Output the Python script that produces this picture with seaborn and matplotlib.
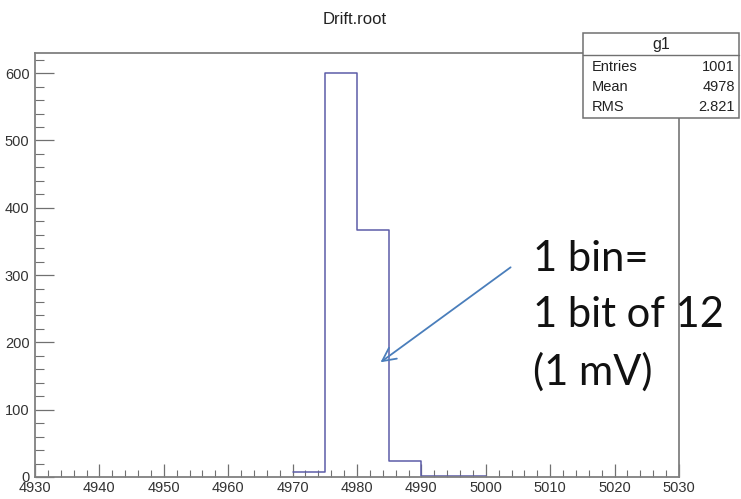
import numpy as np
import pandas as pd
import matplotlib
matplotlib.use("Agg")
import matplotlib.pyplot as plt
from matplotlib.ticker import MultipleLocator
from matplotlib.patches import Rectangle
from matplotlib.lines import Line2D
import seaborn as sns

# ---- data ----
bin_edges = [4970, 4975, 4980, 4985, 4990, 4995, 5000]
bin_counts = [7, 600, 367, 24, 2, 1]
title = "Drift.root"
stats_name = "g1"
stats_labels = ["Entries", "Mean", "RMS"]
stats_values = ["1001", "4978", "2.821"]
note_text = "1 bin=\n1 bit of 12\n(1 mV)"
x_range = (4930, 5030)
y_range = (0, 630)

sns.set_style("white")
plt.rcParams['font.family'] = ['Liberation Sans Narrow', 'Liberation Sans', 'DejaVu Sans']

W, H = 741, 499
fig = plt.figure(figsize=(W / 100, H / 100), dpi=100)
ax = fig.add_axes([35 / W, (H - 477) / H, (679 - 35) / W, (477 - 53) / H])

centers = [(a + b) / 2 for a, b in zip(bin_edges[:-1], bin_edges[1:])]
df = pd.DataFrame({"x": centers, "w": bin_counts})
sns.histplot(data=df, x="x", weights="w", bins=bin_edges, element="step",
             fill=False, color="#5c5ca8", linewidth=1.1, ax=ax)

ax.set_xlim(*x_range)
ax.set_ylim(*y_range)
ax.set_xlabel("")
ax.set_ylabel("")
ax.xaxis.set_major_locator(MultipleLocator(10))
ax.xaxis.set_minor_locator(MultipleLocator(2))
ax.yaxis.set_major_locator(MultipleLocator(100))
ax.yaxis.set_minor_locator(MultipleLocator(20))
ax.tick_params(axis="x", which="major", direction="in", length=9.5, width=0.9,
               color="#707070", labelsize=10.5, labelcolor="#333333", pad=3)
ax.tick_params(axis="x", which="minor", direction="in", length=5, width=0.8,
               color="#707070")
ax.tick_params(axis="y", which="major", direction="in", length=13.5, width=0.9,
               color="#707070", labelsize=10.5, labelcolor="#333333", pad=4)
ax.tick_params(axis="y", which="minor", direction="in", length=6.5, width=0.8,
               color="#707070")
ax.tick_params(bottom=True, left=True, which="both")
for s in ax.spines.values():
    s.set_color("#808080")
    s.set_linewidth(1.3)

fig.text(355 / W, 1 - 20 / H, title, ha="center", va="center", fontsize=12,
         color="#222222")

# stats box
bx0, bx1, by0, by1 = 583, 739, 33, 118
fig.add_artist(Rectangle((bx0 / W, 1 - by1 / H), (bx1 - bx0) / W, (by1 - by0) / H,
                         transform=fig.transFigure, facecolor="white",
                         edgecolor="#707070", linewidth=1.1, zorder=5))
fig.add_artist(Line2D([bx0 / W, bx1 / W], [1 - 55 / H, 1 - 55 / H],
                      transform=fig.transFigure, color="#707070", linewidth=1.0,
                      zorder=6))
fig.text((bx0 + bx1) / 2 / W, 1 - 44 / H, stats_name, ha="center", va="center",
         fontsize=11.5, color="#222222", zorder=7)
for i, (lab, val) in enumerate(zip(stats_labels, stats_values)):
    yb = 1 - (67 + i * 20) / H
    fig.text(592 / W, yb, lab, ha="left", va="center", fontsize=10.5,
             color="#222222", zorder=7)
    fig.text(735 / W, yb, val, ha="right", va="center", fontsize=10.5,
             color="#222222", zorder=7)

# annotation
ax.annotate("", xy=(4983.3, 168), xytext=(5004.2, 314),
            arrowprops=dict(arrowstyle="->", color="#4a7ebb", lw=1.3,
                            mutation_scale=24))
fig.text(533 / W, 1 - 385 / H, note_text, ha="left", va="baseline",
         fontsize=30, family=["Lato", "DejaVu Sans"], color="#111111",
         linespacing=1.58)
fig.savefig("out.png", dpi=100)
